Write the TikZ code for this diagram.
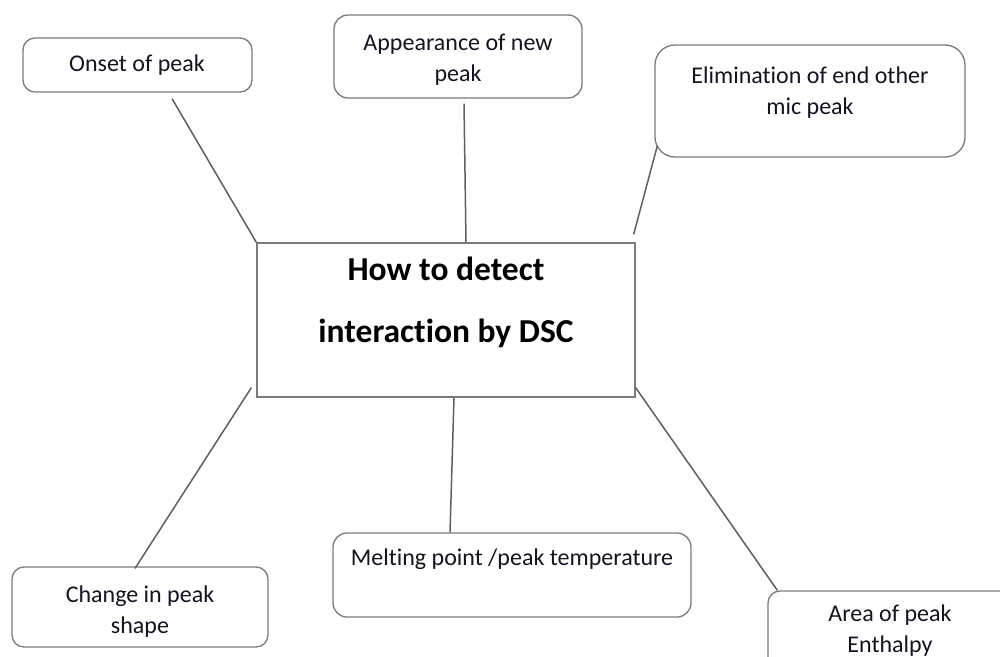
\documentclass[tikz,border=0pt]{standalone}
\usepackage{fontspec}
\setmainfont{Carlito}[Ligatures=NoCommon]
\definecolor{boxgray}{HTML}{7A7A7A}
\definecolor{linegray}{HTML}{5F5F5F}
\definecolor{txtcol}{HTML}{141420}
\begin{document}
\begin{tikzpicture}[x=1pt,y=-1pt,
  box/.style={draw=boxgray, line width=1.3pt, fill=white, inner sep=0pt, rounded corners=#1},
  box/.default=12pt,
  mainbox/.style={draw=boxgray, line width=1.3pt, fill=white, inner sep=0pt},
  txt/.style={anchor=base, inner sep=0pt, text=txtcol, font=\fontsize{24pt}{31pt}\selectfont},
  ttl/.style={anchor=base, inner sep=0pt, text=black, font=\bfseries\fontsize{33.5pt}{62pt}\selectfont},
  conn/.style={draw=linegray, line width=1.5pt}]
\useasboundingbox (0,0) rectangle (1000,656);
\clip (0,0) rectangle (1000,656);

% boxes
\node[box=12pt, minimum width=229pt, minimum height=54pt] (onset) at (137.5,65) {};
\node[box=14pt, minimum width=248pt, minimum height=83pt] (appear) at (458,56.5) {};
\node[box=20pt, minimum width=310pt, minimum height=112pt] (elim) at (810,101) {};
\node[mainbox, minimum width=378pt, minimum height=154pt] (center) at (446,320) {};
\node[box=12pt, minimum width=256pt, minimum height=80pt] (change) at (140,607) {};
\node[box=14pt, minimum width=358pt, minimum height=84pt] (melt) at (512,575) {};
\node[box=12pt, minimum width=244pt, minimum height=109pt] (area) at (890,645.5) {};

% texts
\node[txt] (tonset) at (137,71) {Onset of peak};
\node[txt] (tappear) at (458,50) {\begin{tabular}[t]{@{}c@{}}Appearance of new\\peak\end{tabular}};
\node[txt] (telim) at (810,83) {\begin{tabular}[t]{@{}c@{}}Elimination of end other\\mic peak\end{tabular}};
\node[ttl] (tcenter) at (446,280) {\begin{tabular}[t]{@{}c@{}}How to detect\\interaction by DSC\end{tabular}};
\node[txt] (tchange) at (140,602) {\begin{tabular}[t]{@{}c@{}}Change in peak\\shape\end{tabular}};
\node[txt] (tmelt) at (512,565) {Melting point /peak temperature};
\node[txt] (tarea) at (890,621) {\begin{tabular}[t]{@{}c@{}}Area of peak\\Enthalpy\end{tabular}};

% connectors
\draw[conn] ([xshift=34.5pt,yshift=-6pt]onset.south) -- (center.north west);
\draw[conn] ([xshift=6pt,yshift=-5pt]appear.south) -- ([xshift=20pt]center.north);
\draw[conn] ([xshift=3pt,yshift=12pt]elim.south west) -- ([xshift=-2pt,yshift=8pt]center.north east);
\draw[conn] ([xshift=-5pt,yshift=10pt]center.south west) -- ([xshift=-5pt,yshift=-2pt]change.north);
\draw[conn] ([xshift=8pt]center.south) -- ([xshift=-62pt]melt.north);
\draw[conn] ([yshift=10pt]center.south east) -- ([xshift=10pt]area.north west);
\end{tikzpicture}
\end{document}
